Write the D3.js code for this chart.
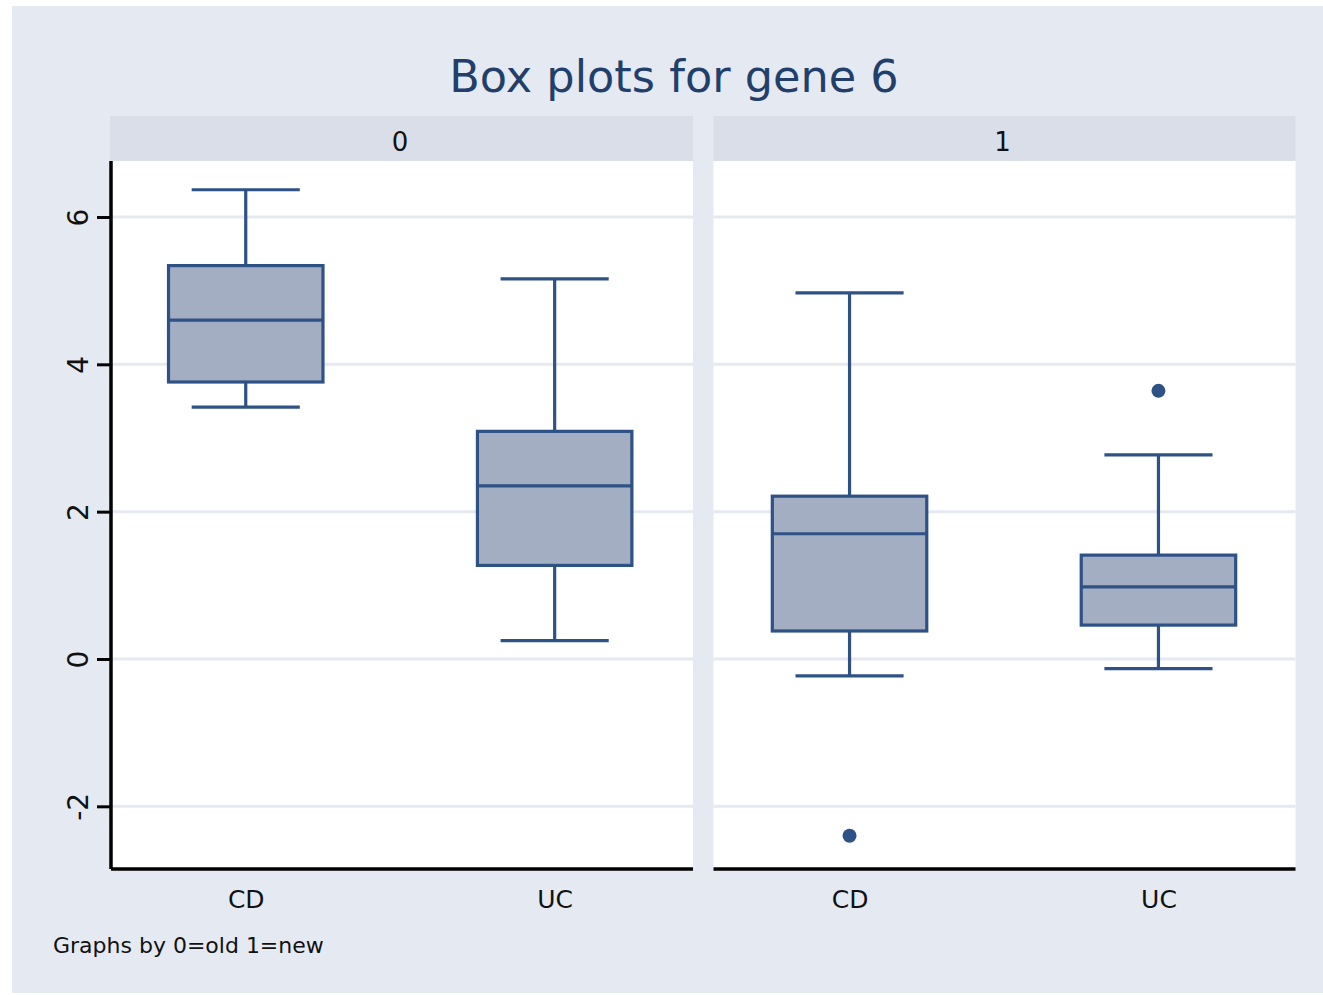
<!DOCTYPE html>
<html>
<head>
<meta charset="utf-8">
<script src="https://cdn.jsdelivr.net/npm/d3@7"></script>
<style>
  html, body { margin: 0; padding: 0; background: #ffffff; }
  svg { display: block; }
  text { font-family: "DejaVu Sans", sans-serif; }
</style>
</head>
<body>
<div id="chart"></div>
<script>
// Group panels (0 = old, 1 = new) and diagnosis categories
const panels = ["0", "1"];
const categories = ["CD", "UC"];
const yTicks = [-2, 0, 2, 4, 6];

// Five-number summaries per panel, in category order
const lowerWhisker = [[3.42, 0.25], [-0.23, -0.13]];
const q1Values     = [[3.76, 1.27], [0.38, 0.46]];
const medians      = [[4.60, 2.35], [1.70, 0.98]];
const q3Values     = [[5.34, 3.09], [2.21, 1.41]];
const upperWhisker = [[6.37, 5.16], [4.97, 2.77]];
// Outside values: [panel index, category, value]
const outliers = [[1, "CD", -2.40], [1, "UC", 3.64]];

const W = 1323, H = 995;
const svg = d3.select("#chart").append("svg")
  .attr("width", W).attr("height", H);

const bg = "#e5eaf2", stripBg = "#d9dee8", navy = "#2e5186",
      boxFill = "#a4aec3", titleColor = "#223f6b";

svg.append("rect").attr("x", 12).attr("y", 6)
  .attr("width", W - 12).attr("height", H - 8).attr("fill", bg);

svg.append("text")
  .attr("x", 674).attr("y", 92)
  .attr("text-anchor", "middle")
  .attr("font-size", 44.6)
  .attr("fill", titleColor)
  .text("Box plots for gene 6");

const plotTop = 161, plotBottom = 869, stripTop = 116;
const panelX = [111, 713.5], panelW = 582;
const bandShift = [-1.8, -0.5];

const y = d3.scaleLinear().domain([-2.851, 6.76]).range([plotBottom, plotTop]);

panels.forEach((p, i) => {
  const x0 = panelX[i];
  const g = svg.append("g");

  // strip header
  g.append("rect").attr("x", i === 0 ? x0 - 1 : x0).attr("y", stripTop)
    .attr("width", i === 0 ? panelW + 1 : panelW).attr("height", plotTop - stripTop)
    .attr("fill", stripBg);
  g.append("text").attr("x", x0 + panelW / 2 - 2).attr("y", 151)
    .attr("text-anchor", "middle").attr("font-size", 26).attr("fill", "#111")
    .text(p);

  // plot region
  g.append("rect").attr("x", x0).attr("y", plotTop)
    .attr("width", panelW).attr("height", plotBottom - plotTop)
    .attr("fill", "#ffffff");

  // horizontal grid
  g.selectAll("line.grid").data(yTicks).join("line")
    .attr("class", "grid")
    .attr("x1", x0).attr("x2", x0 + panelW)
    .attr("y1", d => y(d)).attr("y2", d => y(d))
    .attr("stroke", bg).attr("stroke-width", 3);

  const x = d3.scalePoint().domain(categories)
    .range([x0 + bandShift[i], x0 + panelW + bandShift[i]]).padding(0.442);
  const step = x.step();
  const boxW = step * 0.5, capW = step * 0.35;

  const stats = categories.map((c, j) => ({
    cat: c,
    lo: lowerWhisker[i][j], q1: q1Values[i][j], med: medians[i][j],
    q3: q3Values[i][j], hi: upperWhisker[i][j]
  }));

  const bx = g.selectAll("g.box").data(stats).join("g").attr("class", "box");
  // whisker stems
  bx.append("line")
    .attr("x1", d => x(d.cat)).attr("x2", d => x(d.cat))
    .attr("y1", d => y(d.hi)).attr("y2", d => y(d.q3))
    .attr("stroke", navy).attr("stroke-width", 3.2);
  bx.append("line")
    .attr("x1", d => x(d.cat)).attr("x2", d => x(d.cat))
    .attr("y1", d => y(d.q1)).attr("y2", d => y(d.lo))
    .attr("stroke", navy).attr("stroke-width", 3.2);
  // caps
  ["hi", "lo"].forEach(k => {
    bx.append("line")
      .attr("x1", d => x(d.cat) - capW / 2).attr("x2", d => x(d.cat) + capW / 2)
      .attr("y1", d => y(d[k])).attr("y2", d => y(d[k]))
      .attr("stroke", navy).attr("stroke-width", 3.2);
  });
  // box
  bx.append("rect")
    .attr("x", d => x(d.cat) - boxW / 2).attr("width", boxW)
    .attr("y", d => y(d.q3)).attr("height", d => y(d.q1) - y(d.q3))
    .attr("fill", boxFill).attr("stroke", navy).attr("stroke-width", 3.2);
  // median
  bx.append("line")
    .attr("x1", d => x(d.cat) - boxW / 2).attr("x2", d => x(d.cat) + boxW / 2)
    .attr("y1", d => y(d.med)).attr("y2", d => y(d.med))
    .attr("stroke", navy).attr("stroke-width", 3.2);

  // outside values
  g.selectAll("circle.out").data(outliers.filter(o => o[0] === i)).join("circle")
    .attr("class", "out")
    .attr("cx", d => x(d[1])).attr("cy", d => y(d[2])).attr("r", 7)
    .attr("fill", navy);

  // x axis
  const xAxis = g.append("g").attr("transform", `translate(0,${plotBottom})`)
    .call(d3.axisBottom(x).tickSize(0).tickPadding(0));
  xAxis.select(".domain").attr("d", `M${x0},0H${x0 + panelW}`)
    .attr("stroke", "#000").attr("stroke-width", 3.5);
  xAxis.selectAll("text").attr("font-size", 25).attr("fill", "#111")
    .attr("dy", null).attr("y", 39);

  // y axis on the first panel only
  if (i === 0) {
    const yAxis = g.append("g").attr("transform", `translate(${x0},0)`)
      .call(d3.axisLeft(y).tickValues(yTicks).tickSize(14).tickPadding(0)
        .tickFormat(d => String(d)));
    yAxis.select(".domain").attr("d", `M0,${plotTop}V${plotBottom}`)
      .attr("stroke", "#000").attr("stroke-width", 3.5);
    yAxis.selectAll(".tick line").attr("stroke", "#000").attr("stroke-width", 3);
    yAxis.selectAll(".tick text")
      .attr("font-size", 28).attr("fill", "#111")
      .attr("x", null).attr("dy", null)
      .attr("text-anchor", "middle")
      .attr("transform", "translate(-23,0) rotate(-90)");
  }
});

svg.append("text").attr("x", 53).attr("y", 953)
  .attr("font-size", 22).attr("fill", "#111")
  .text("Graphs by 0=old 1=new");
</script>
</body>
</html>
